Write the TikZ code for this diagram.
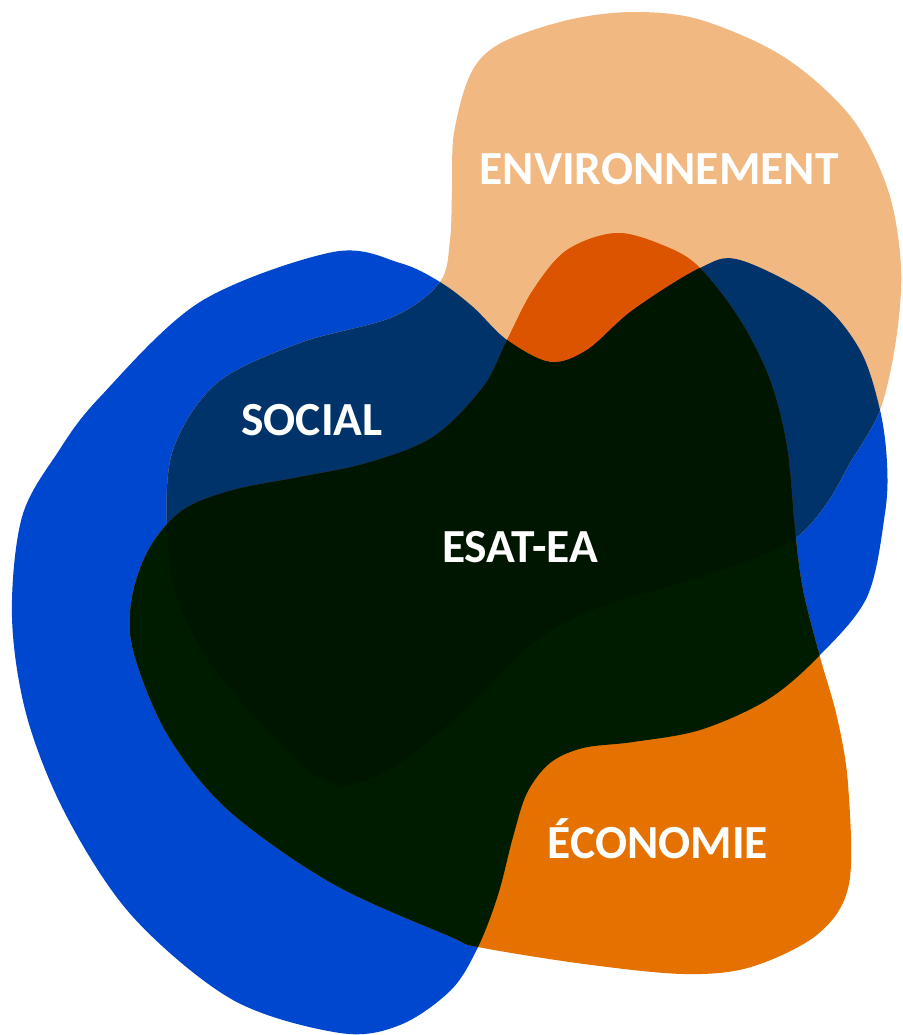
\documentclass[tikz,border=0pt]{standalone}
\usepackage{fontspec}
\setmainfont{Carlito}
\definecolor{socblue}{HTML}{0047CF}
\definecolor{envorange}{HTML}{F2B882}
\definecolor{ecoorange}{HTML}{E57200}
\definecolor{navyover}{HTML}{003369}
\definecolor{redover}{HTML}{DC5300}
\definecolor{greenover}{HTML}{001C00}
\definecolor{tripleover}{HTML}{001600}
\tikzset{
  label/.style={text=white, font=\fontsize{47.5}{50}\selectfont\bfseries, anchor=base, inner sep=0pt},
}
\def\bluepath{plot[smooth cycle, tension=0.55] coordinates {
 (333,252) (400,263) (440,282) (473,307) (507,340) (550,362) (587,350) (633,310)
 (700,268) (740,260) (818,300) (860,350) (880,410) (887,463) (885,513) (867,597)
 (818,657) (767,700) (700,730) (633,742) (583,748) (550,763) (527,793) (513,837)
 (498,895) (478,947) (451,990) (400,1025) (340,1033) (233,1000) (133,917) (67,817)
 (27,717) (12,617) (22,517) (58,452) (100,397) (200,302) }}
\def\envpath{plot[smooth cycle, tension=0.55] coordinates {
 (454,133) (471,73) (501,43) (568,20) (634,12) (701,20) (784,57) (851,117)
 (888,190) (901,267) (896,340) (880,410) (850,463) (827,503) (797,537) (750,560)
 (667,587) (600,607) (533,643) (467,708) (400,763) (350,785) (317,777) (267,730)
 (210,663) (177,597) (167,530) (173,450) (217,383) (300,343) (393,317) (440,282)
 (450,240) (452,190) }}
\def\ecopath{plot[smooth cycle, tension=0.55] coordinates {
 (617,233) (667,247) (700,268) (740,320) (770,380) (787,447) (795,530) (803,590)
 (820,657) (837,717) (848,784) (849,884) (818,934) (751,967) (684,974) (584,964)
 (478,947) (451,937) (333,884) (228,810) (167,734) (133,650) (132,597) (150,547)
 (183,510) (233,490) (300,477) (367,463) (433,437) (483,387) (507,340) (533,290)
 (567,250) }}
\begin{document}
\begin{tikzpicture}[x=1pt, y=-1pt]
  \useasboundingbox (0,0) rectangle (902,1035);
  \fill[white] (0,0) rectangle (902,1035);
  % single blobs
  \fill[socblue] \bluepath;
  \fill[envorange] \envpath;
  \fill[ecoorange] \ecopath;
  % overlaps with the environment blob
  \begin{scope}
    \clip \envpath;
    \fill[navyover] \bluepath;
    \fill[redover] \ecopath;
  \end{scope}
  % overlaps with the social blob
  \begin{scope}
    \clip \bluepath;
    \fill[greenover] \ecopath;
    \clip \envpath;
    \fill[tripleover] \ecopath;
  \end{scope}
  % labels
  \node[label] (env) at (659,185) {ENVIRONNEMENT};
  \node[label] (soc) at (312,435) {SOCIAL};
  \node[label] (esat) at (520,562) {ESAT-EA};
  \node[label] (eco) at (658,858) {ÉCONOMIE};
\end{tikzpicture}
\end{document}
